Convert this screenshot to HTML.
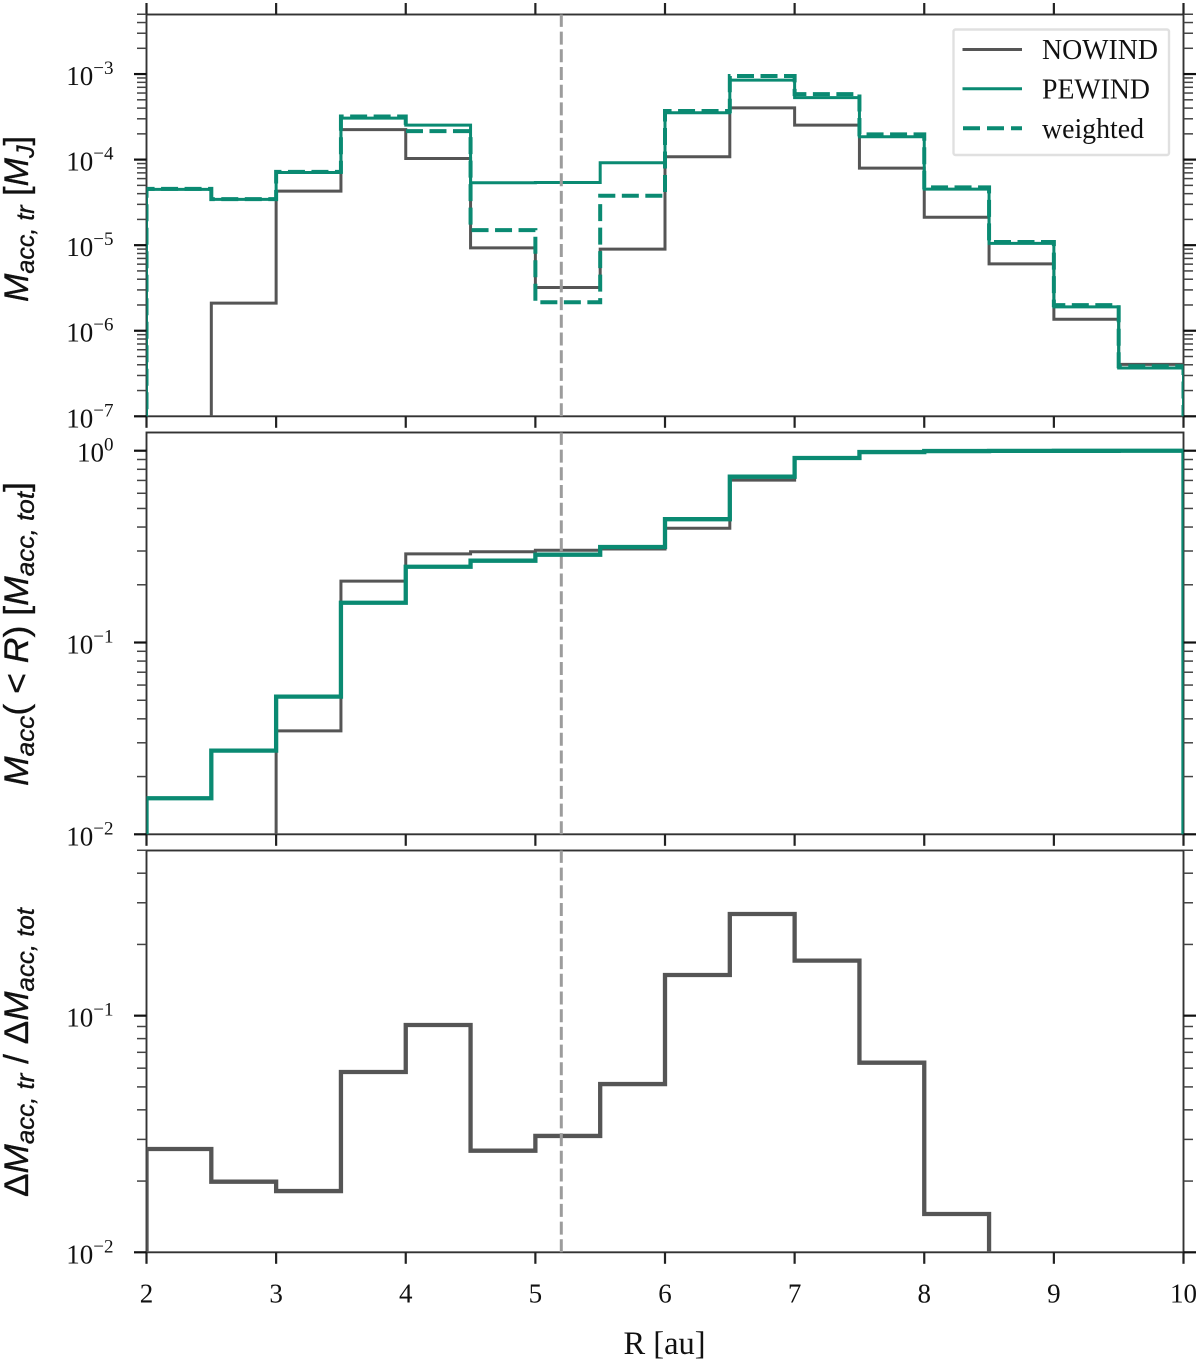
<!DOCTYPE html>
<html lang="en">
<head>
<meta charset="utf-8">
<title>Accreted mass versus radius</title>
<style>
  html, body { margin: 0; padding: 0; background: #fff; }
  svg { display: block; }
  text { font-family: "Liberation Serif", serif; fill: #111; }
  .axis-label { font-family: "Liberation Sans", "DejaVu Sans", sans-serif; font-size: 34px; fill: #111; stroke: #111; stroke-width: 0.35px; }
</style>
</head>
<body>
<svg id="chart" xmlns="http://www.w3.org/2000/svg" width="1200" height="1362" viewBox="0 0 1200 1362">
  <defs>
    <clipPath id="clip-top"><rect x="146.5" y="14.5" width="1037" height="401.8"/></clipPath>
    <clipPath id="clip-middle"><rect x="146.5" y="432.5" width="1037" height="401.8"/></clipPath>
    <clipPath id="clip-bottom"><rect x="146.5" y="850.5" width="1037" height="401.8"/></clipPath>
  </defs>
  <g id="panels"></g>

  <text class="axis-label" transform="translate(28,302) rotate(-90)" textLength="166" lengthAdjust="spacingAndGlyphs"><tspan font-style="italic">M</tspan><tspan font-style="italic" font-size="25" dy="6">acc, tr</tspan><tspan dy="-6"> [</tspan><tspan font-style="italic">M</tspan><tspan font-style="italic" font-size="25" dy="6">J</tspan><tspan dy="-6">]</tspan></text>
  <text class="axis-label" transform="translate(28,786) rotate(-90)" textLength="304" lengthAdjust="spacingAndGlyphs"><tspan font-style="italic">M</tspan><tspan font-style="italic" font-size="25" dy="6">acc</tspan><tspan dy="-6">( &lt; </tspan><tspan font-style="italic">R</tspan><tspan>) [</tspan><tspan font-style="italic">M</tspan><tspan font-style="italic" font-size="25" dy="6">acc, tot</tspan><tspan dy="-6">]</tspan></text>
  <text class="axis-label" transform="translate(28,1197) rotate(-90)" textLength="289" lengthAdjust="spacingAndGlyphs"><tspan>Δ</tspan><tspan font-style="italic">M</tspan><tspan font-style="italic" font-size="25" dy="6">acc, tr</tspan><tspan dy="-6"> / Δ</tspan><tspan font-style="italic">M</tspan><tspan font-style="italic" font-size="25" dy="6">acc, tot</tspan></text>
  <text x="664.5" y="1354" font-size="32.5" text-anchor="middle">R [au]</text>

  <g>
    <rect x="953.5" y="29.5" width="215.5" height="125.5" rx="2" fill="#fff" fill-opacity="0.85" stroke="#e0e0e0" stroke-width="2.4"/>
    <line x1="962.5" x2="1022" y1="49.5" y2="49.5" stroke="#555" stroke-width="3"/>
    <text x="1042" y="59" font-size="29" textLength="116" lengthAdjust="spacingAndGlyphs">NOWIND</text>
    <line x1="962.5" x2="1022" y1="88.7" y2="88.7" stroke="#0a8a72" stroke-width="3"/>
    <text x="1042" y="98.5" font-size="29" textLength="108" lengthAdjust="spacingAndGlyphs">PEWIND</text>
    <line x1="963" x2="1022" y1="128.3" y2="128.3" stroke="#0a8a72" stroke-width="4" stroke-dasharray="17 7"/>
    <text x="1042" y="138" font-size="29" textLength="102" lengthAdjust="spacingAndGlyphs">weighted</text>
  </g>
</svg>

<script>
const binEdges = [2, 2.5, 3, 3.5, 4, 4.5, 5, 5.5, 6, 6.5, 7, 7.5, 8, 8.5, 9, 9.5, 10];

const topNowind = [0, 2.1e-6, 4.28e-5, 2.24e-4, 1.03e-4, 9.3e-6, 3.2e-6, 9.0e-6, 1.08e-4, 4.03e-4, 2.53e-4, 7.96e-5, 2.12e-5, 6.04e-6, 1.36e-6, 4.05e-7];
const topPewind = [4.49e-5, 3.43e-5, 7.08e-5, 3.05e-4, 2.53e-4, 5.36e-5, 5.4e-5, 9.18e-5, 3.53e-4, 8.5e-4, 5.3e-4, 1.85e-4, 4.52e-5, 1.05e-5, 1.9e-6, 3.67e-7];
const topWeighted = [4.55e-5, 3.45e-5, 7.2e-5, 3.19e-4, 2.15e-4, 1.5e-5, 2.15e-6, 3.78e-5, 3.7e-4, 9.5e-4, 5.83e-4, 1.97e-4, 4.73e-5, 1.09e-5, 1.99e-6, 3.85e-7];

const middleNowind = [0, 0, 0.0346, 0.209, 0.29, 0.2975, 0.3026, 0.3073, 0.394, 0.703, 0.915, 0.984, 0.996, 0.998, 0.999, 1.0];
const middlePewind = [0.01541, 0.0273, 0.0522, 0.1612, 0.2484, 0.267, 0.287, 0.3147, 0.4395, 0.732, 0.916, 0.984, 0.996, 0.998, 0.999, 1.0];

const bottomRatio = [0.02733, 0.01988, 0.01815, 0.0578, 0.0913, 0.02688, 0.03102, 0.0514, 0.1486, 0.269, 0.1708, 0.0633, 0.01452, 0, 0, 0];

const xTickValues = [2, 3, 4, 5, 6, 7, 8, 9, 10];
const topDecades = [-7, -6, -5, -4, -3];
const middleDecades = [-2, -1, 0];
const bottomDecades = [-2, -1];
const planetRadius = [5.2];

const SVG_NS = 'http://www.w3.org/2000/svg';
const panelsRoot = document.getElementById('panels');
const plotLeft = 146.5;
const plotRight = 1183.5;

function xScale(v) {
  return plotLeft + (v - 2) / 8 * (plotRight - plotLeft);
}

function makeYScale(logMin, logMax, pixelBottom, pixelTop) {
  return function (v) {
    if (v <= 0) return pixelBottom + 40;
    return pixelBottom - (Math.log10(v) - logMin) / (logMax - logMin) * (pixelBottom - pixelTop);
  };
}

function make(tag, attrs, parent) {
  const el = document.createElementNS(SVG_NS, tag);
  Object.keys(attrs).forEach(function (k) { el.setAttribute(k, attrs[k]); });
  parent.appendChild(el);
  return el;
}

function stepPath(values, yScale, baseY) {
  let d = 'M' + xScale(binEdges[0]) + ' ' + baseY;
  values.forEach(function (v, i) {
    const y = yScale(v);
    d += 'L' + xScale(binEdges[i]) + ' ' + y + 'L' + xScale(binEdges[i + 1]) + ' ' + y;
  });
  d += 'L' + xScale(binEdges[binEdges.length - 1]) + ' ' + baseY;
  return d;
}

function drawAxes(group, cfg) {
  const frame = make('rect', { x: plotLeft, y: cfg.top, width: plotRight - plotLeft, height: cfg.bottom - cfg.top, fill: 'none', stroke: '#333', 'stroke-width': 1.9 }, group);
  
  

  xTickValues.forEach(function (t) {
    const px = xScale(t);
    const low = make('line', { x1: px, x2: px, y1: cfg.bottom, y2: cfg.bottom + 11.5, stroke: '#222', 'stroke-width': 2.2 }, group);
    
    
    if (cfg.topTicks) {
      const high = make('line', { x1: px, x2: px, y1: cfg.top, y2: cfg.top - 11.5, stroke: '#222', 'stroke-width': 2.2 }, group);
      
      
    }
    if (cfg.xLabels) {
      const label = make('text', { x: px, y: 1302.5, 'font-size': 27, 'text-anchor': 'middle' }, group);
      label.textContent = String(t);
      
      
    }
  });

  const subs = [2, 3, 4, 5, 6, 7, 8, 9];
  const lowest = cfg.decades[0];
  for (let dec = lowest; dec <= cfg.decades[cfg.decades.length - 1]; dec++) {
    subs.forEach(function (s) {
      const val = s * Math.pow(10, dec);
      const py = cfg.y(val);
      if (py < cfg.top - 1 || py > cfg.bottom + 0.5) return;
      const left = make('line', { x1: plotLeft, x2: plotLeft - 9.5, y1: py, y2: py, stroke: '#444', 'stroke-width': 1.5 }, group);
      
      
      const right = make('line', { x1: plotRight, x2: plotRight + 9.5, y1: py, y2: py, stroke: '#444', 'stroke-width': 1.5 }, group);
      
      
    });
  }

  cfg.decades.forEach(function (dec) {
    const py = cfg.y(Math.pow(10, dec));
    const left = make('line', { x1: plotLeft, x2: plotLeft - 12.5, y1: py, y2: py, stroke: '#111', 'stroke-width': 2.2 }, group);
    
    
    const right = make('line', { x1: plotRight, x2: plotRight + 12.5, y1: py, y2: py, stroke: '#111', 'stroke-width': 2.2 }, group);
    
    

    const label = make('text', { x: 113.5, y: py + 11, 'font-size': 27, 'text-anchor': 'end' }, group);
    
    
    const base = make('tspan', {}, label);
    base.textContent = '10';
    const exp = make('tspan', { dy: -11, 'font-size': 19 }, label);
    exp.textContent = (dec < 0 ? '\u2212' + Math.abs(dec) : String(dec));
  });
}

function drawPlanetLine(group, cfg) {
  const px = xScale(planetRadius[0]);
  const line = make('line', { x1: px, x2: px, y1: cfg.bottom, y2: cfg.top, stroke: '#9c9c9c', 'stroke-width': 3, 'stroke-dasharray': '13 4.7' }, group);
  
  
}

function drawSeries(group, cfg, values, name, color, width, dash) {
  const attrs = { d: stepPath(values, cfg.y, cfg.bottom + 40), fill: 'none', stroke: color, 'stroke-width': width, 'stroke-linejoin': 'miter', 'clip-path': 'url(#' + cfg.clip + ')' };
  if (dash) attrs['stroke-dasharray'] = dash;
  const path = make('path', attrs, group);
  
  
}

const darkColor = '#555555';
const tealColor = '#0a8a72';

const topCfg = { name: 'top', top: 14.5, bottom: 416.3, clip: 'clip-top', decades: topDecades, topTicks: true, xLabels: false, y: makeYScale(-7, -2.304, 416.3, 14.5) };
const middleCfg = { name: 'middle', top: 432.5, bottom: 834.3, clip: 'clip-middle', decades: middleDecades, topTicks: false, xLabels: false, y: makeYScale(-2, 0.095, 834.3, 432.5) };
const bottomCfg = { name: 'bottom', top: 850.5, bottom: 1252.3, clip: 'clip-bottom', decades: bottomDecades, topTicks: false, xLabels: true, y: makeYScale(-2, -0.302, 1252.3, 850.5) };

const topGroup = make('g', {}, panelsRoot);


drawAxes(topGroup, topCfg);
drawSeries(topGroup, topCfg, topNowind, 'top-nowind-line', darkColor, 3, null);
drawSeries(topGroup, topCfg, topPewind, 'top-pewind-line', tealColor, 3, null);
drawSeries(topGroup, topCfg, topWeighted, 'top-weighted-line', tealColor, 4, '17 6.5');
drawPlanetLine(topGroup, topCfg);

const middleGroup = make('g', {}, panelsRoot);


drawAxes(middleGroup, middleCfg);
drawSeries(middleGroup, middleCfg, middleNowind, 'middle-nowind-line', darkColor, 3, null);
drawPlanetLine(middleGroup, middleCfg);
drawSeries(middleGroup, middleCfg, middlePewind, 'middle-pewind-line', tealColor, 4.3, null);

const bottomGroup = make('g', {}, panelsRoot);


drawAxes(bottomGroup, bottomCfg);
drawSeries(bottomGroup, bottomCfg, bottomRatio, 'bottom-ratio-line', darkColor, 4.3, null);
drawPlanetLine(bottomGroup, bottomCfg);
</script>
</body>
</html>
